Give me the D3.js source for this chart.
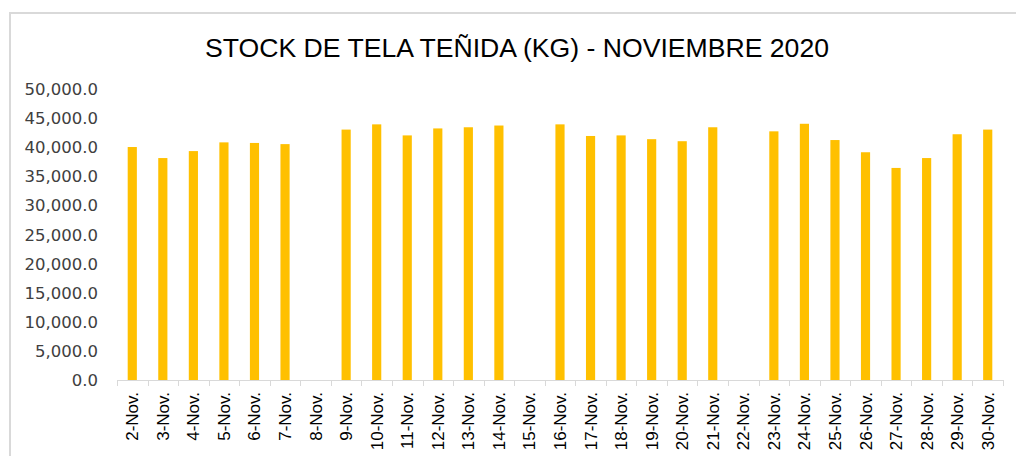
<!DOCTYPE html>
<html>
<head>
<meta charset="utf-8">
<script src="https://cdn.jsdelivr.net/npm/d3@7"></script>
<style>
  body { margin: 0; background: #fff; }
</style>
</head>
<body>
<div id="chart"></div>
<script>
var days = ["2-Nov.", "3-Nov.", "4-Nov.", "5-Nov.", "6-Nov.", "7-Nov.", "8-Nov.", "9-Nov.",
  "10-Nov.", "11-Nov.", "12-Nov.", "13-Nov.", "14-Nov.", "15-Nov.", "16-Nov.", "17-Nov.",
  "18-Nov.", "19-Nov.", "20-Nov.", "21-Nov.", "22-Nov.", "23-Nov.", "24-Nov.", "25-Nov.",
  "26-Nov.", "27-Nov.", "28-Nov.", "29-Nov.", "30-Nov."];
var stock = [40100, 38200, 39400, 40900, 40800, 40600, null, 43100,
  44000, 42100, 43300, 43500, 43800, null, 44000, 42000,
  42100, 41450, 41100, 43500, null, 42800, 44100, 41300,
  39200, 36500, 38200, 42300, 43100];
var yTicks = [0, 5000, 10000, 15000, 20000, 25000, 30000, 35000, 40000, 45000, 50000];

createchart();

function createchart() {
  var width = 1016;
  var height = 456;

  var svg = d3.select("#chart").append("svg")
    .attr("width", width)
    .attr("height", height);

  // chart frame
  svg.append("path")
    .attr("d", "M 10 456 V 13 H 1016")
    .attr("fill", "none")
    .attr("stroke", "#d9d9d9")
    .attr("stroke-width", 2);

  svg.append("text")
    .attr("x", 517)
    .attr("y", 57)
    .attr("text-anchor", "middle")
    .attr("font-family", "Liberation Sans Narrow, Liberation Sans, sans-serif")
    .attr("font-size", 25)
    .attr("fill", "#000")
    .attr("textLength", 624)
    .attr("lengthAdjust", "spacingAndGlyphs")
    .text("STOCK DE TELA TEÑIDA (KG) - NOVIEMBRE 2020");

  var x = d3.scaleBand()
    .domain(days)
    .range([117, 1003])
    .paddingInner(0.7)
    .paddingOuter(0.35);

  var y = d3.scaleLinear()
    .domain([0, 50000])
    .range([380, 89.5]);

  // y axis labels
  var yAxis = svg.append("g")
    .attr("transform", "translate(98,0)")
    .call(d3.axisLeft(y).tickValues(yTicks).tickFormat(d3.format(",.1f")).tickSize(0).tickPadding(0));
  yAxis.select(".domain").remove();
  yAxis.selectAll("text")
    .attr("font-family", "DejaVu Sans, Verdana, sans-serif")
    .attr("font-size", 16.5)
    .attr("fill", "#404040");

  svg.append("g")
    .selectAll("rect")
    .data(stock.map(function(v, i) { return { day: days[i], value: v }; })
      .filter(function(d) { return d.value != null; }))
    .join("rect")
    .attr("x", function(d) { return x(d.day); })
    .attr("y", function(d) { return y(d.value); })
    .attr("width", x.bandwidth())
    .attr("height", function(d) { return y(0) - y(d.value); })
    .attr("fill", "#ffc000");

  // category axis
  var step = x.step();
  var xAxis = svg.append("g");
  xAxis.append("line")
    .attr("x1", 117).attr("x2", 1003)
    .attr("y1", 380.5).attr("y2", 380.5)
    .attr("stroke", "#d9d9d9")
    .attr("stroke-width", 1);
  xAxis.selectAll(".tick")
    .data(d3.range(days.length + 1))
    .join("line")
    .attr("class", "tick")
    .attr("x1", function(i) { return Math.round(117 + i * step) + 0.5; })
    .attr("x2", function(i) { return Math.round(117 + i * step) + 0.5; })
    .attr("y1", 380)
    .attr("y2", 386)
    .attr("stroke", "#d9d9d9");

  xAxis.selectAll("text")
    .data(days)
    .join("text")
    .attr("transform", function(d) {
      return "translate(" + (x(d) + x.bandwidth() / 2 + 6) + ",392) rotate(-90)";
    })
    .attr("text-anchor", "end")
    .attr("font-family", "Liberation Sans, Arial, sans-serif")
    .attr("font-size", 17)
    .attr("fill", "#000")
    .text(function(d) { return d; });
}
</script>
</body>
</html>
